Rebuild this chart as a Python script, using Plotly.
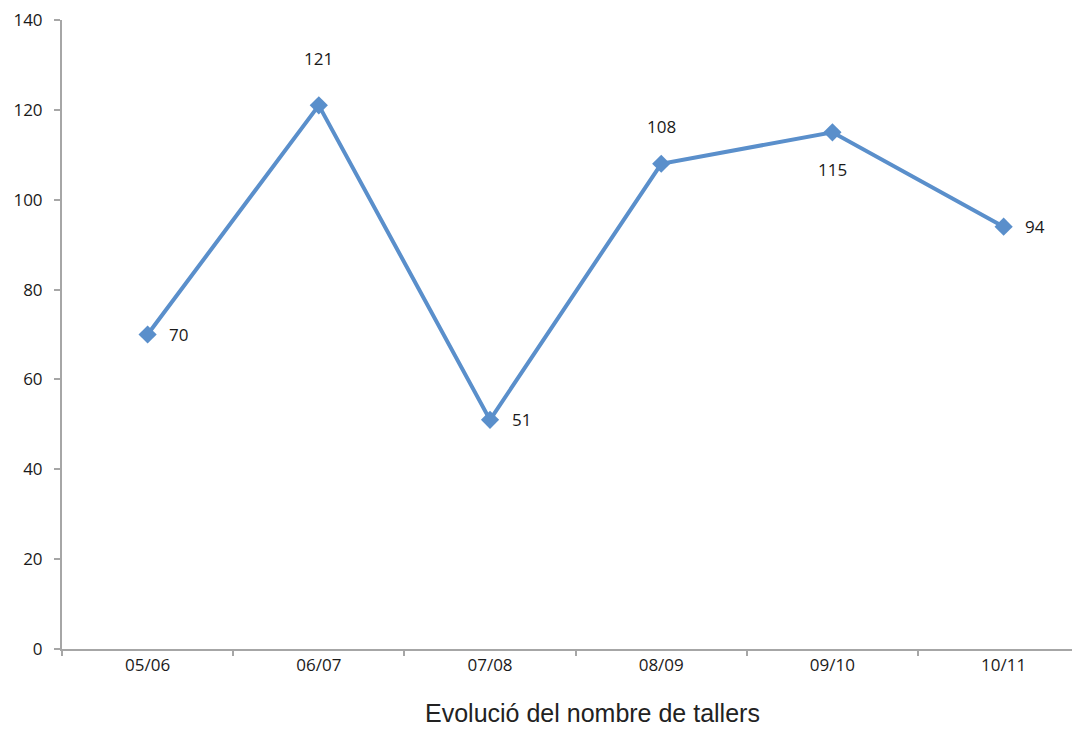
import plotly.graph_objects as go

# Dades
cursos = ["05/06", "06/07", "07/08", "08/09", "09/10", "10/11"]
tallers = [70, 121, 51, 108, 115, 94]
# desplaçament de cada etiqueta (px)
etiq_dx = [31, 0, 31, 0, 0, 31]
etiq_dy = [0, 47, 0, 37, -37, 0]

blau = "#5a8fcb"
gris = "#a6a6a6"

fig = go.Figure()
fig.add_trace(go.Scatter(
    x=cursos,
    y=tallers,
    mode="lines+markers",
    line=dict(color=blau, width=4),
    marker=dict(symbol="diamond", size=14, color=blau),
    hoverinfo="x+y",
    showlegend=False,
))

# Etiquetes de dades
for c, v, dx, dy in zip(cursos, tallers, etiq_dx, etiq_dy):
    fig.add_annotation(
        x=c, y=v, text=str(v), showarrow=False,
        xshift=dx, yshift=dy,
        font=dict(family="Open Sans", size=17, color="#1a1a1a"),
    )

# Títol a sota
fig.add_annotation(
    text="Evolució del nombre de tallers",
    xref="paper", yref="paper", x=0.5216, y=-0.1017,
    xanchor="center", yanchor="middle", showarrow=False,
    font=dict(family="Liberation Sans", size=25, color="#222222"),
)

fig.update_xaxes(
    type="category",
    range=[-0.5, 5.446],
    tickson="boundaries",
    ticks="outside", ticklen=5, tickwidth=2, tickcolor=gris,
    showline=True, linecolor=gris, linewidth=2,
    showgrid=False, zeroline=False,
    tickfont=dict(family="Open Sans", size=17, color="#1a1a1a"),
)
fig.update_yaxes(
    range=[0, 140],
    tickvals=[0, 20, 40, 60, 80, 100, 120, 140],
    ticks="outside", ticklen=6, tickwidth=2, tickcolor=gris,
    showline=True, linecolor=gris, linewidth=2,
    showgrid=False, zeroline=False,
    tickfont=dict(family="Open Sans", size=17, color="#1a1a1a"),
    ticklabelstandoff=8,
    ticklabeloverflow="allow",
)

# la pàgina té 8 px de marge al body
fig.update_layout(
    width=1072, height=721,
    margin=dict(l=54, r=0, t=12, b=80),
    plot_bgcolor="white", paper_bgcolor="white",
)

fig.write_html("out.html")
